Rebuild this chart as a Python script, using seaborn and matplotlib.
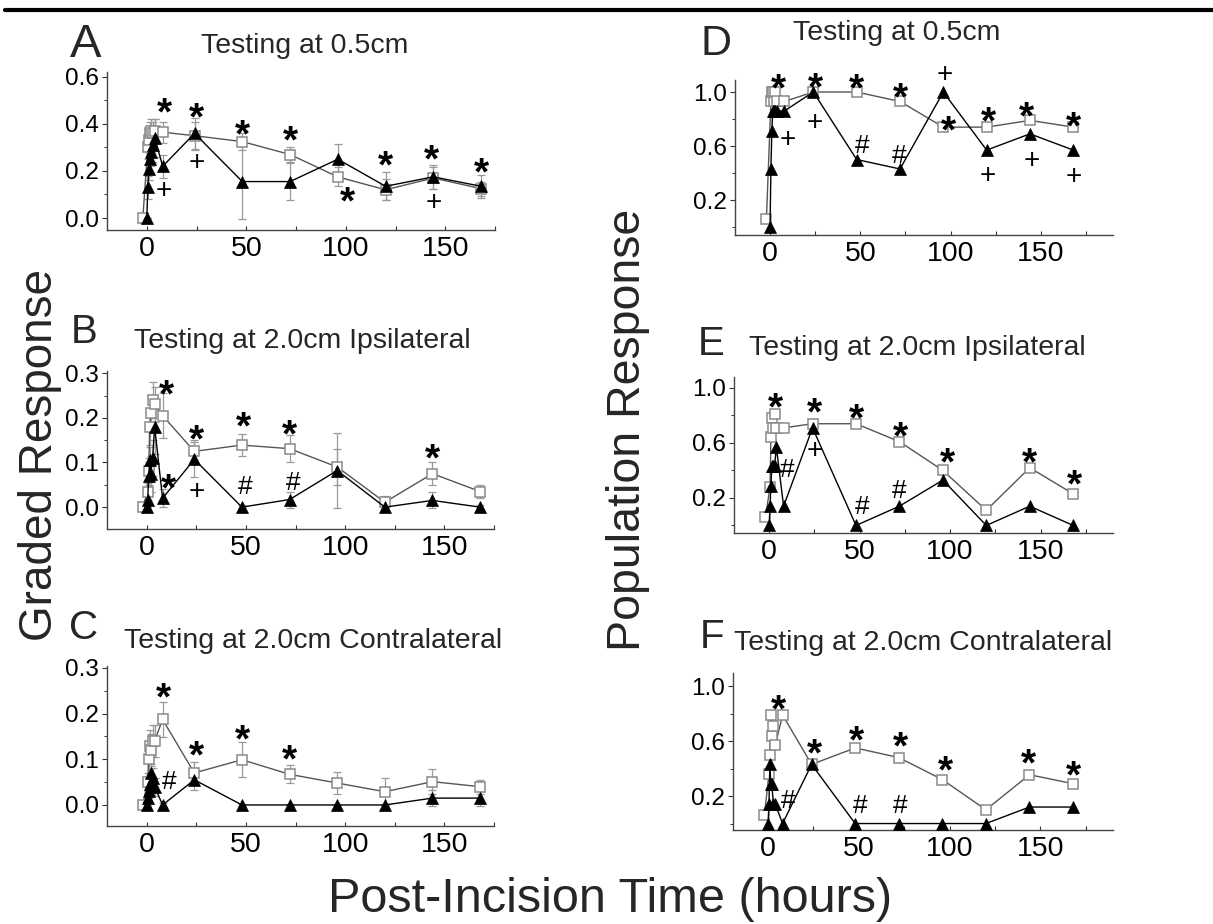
import matplotlib
matplotlib.use("Agg")
import matplotlib.pyplot as plt
from matplotlib.ticker import FixedLocator, FormatStrFormatter
from matplotlib.lines import Line2D
import pandas as pd
import seaborn as sns

# ---------------- data ----------------
hours_open = [-2, 0.5, 1, 1.5, 2, 3, 4, 8, 24, 48, 72, 96, 120, 144, 168]
hours_filled = [0, 0.5, 1, 1.5, 2, 3, 4, 8, 24, 48, 72, 96, 120, 144, 168]

# Graded response (mean, SEM)
A_open = [0.0, 0.30, 0.33, 0.36, 0.37, 0.36, 0.37, 0.365, 0.35, 0.325, 0.27, 0.175, 0.12, 0.17, 0.125]
A_open_err = [0.02, 0.05, 0.05, 0.05, 0.05, 0.05, 0.05, 0.045, 0.06, 0.035, 0.03, 0.04, 0.045, 0.045, 0.03]
A_filled = [0.0, 0.13, 0.21, 0.25, 0.28, 0.31, 0.34, 0.22, 0.36, 0.155, 0.155, 0.25, 0.135, 0.175, 0.135]
A_filled_err = [0.0, 0.05, 0.05, 0.06, 0.06, 0.07, 0.08, 0.05, 0.065, 0.16, 0.08, 0.065, 0.06, 0.05, 0.05]

B_open = [0.0, 0.035, 0.08, 0.18, 0.21, 0.24, 0.23, 0.205, 0.125, 0.139, 0.131, 0.09, 0.011, 0.075, 0.035]
B_open_err = [0.0, 0.02, 0.03, 0.04, 0.04, 0.04, 0.04, 0.05, 0.025, 0.025, 0.03, 0.04, 0.015, 0.025, 0.015]
B_filled = [0.0, 0.015, 0.07, 0.105, 0.075, 0.11, 0.18, 0.02, 0.107, 0.0, 0.017, 0.082, 0.0, 0.015, 0.0]
B_filled_err = [0.0, 0.01, 0.03, 0.03, 0.04, 0.04, 0.06, 0.02, 0.04, 0.005, 0.018, 0.085, 0.005, 0.018, 0.005]

C_open = [0.0, 0.05, 0.10, 0.13, 0.12, 0.14, 0.14, 0.187, 0.07, 0.099, 0.067, 0.048, 0.029, 0.051, 0.04]
C_open_err = [0.0, 0.02, 0.03, 0.035, 0.035, 0.035, 0.035, 0.038, 0.025, 0.038, 0.02, 0.025, 0.03, 0.028, 0.015]
C_filled = [0.0, 0.015, 0.03, 0.045, 0.07, 0.06, 0.04, 0.0, 0.055, 0.0, 0.0, 0.0, 0.0, 0.015, 0.015]
C_filled_err = [0.0, 0.01, 0.015, 0.02, 0.02, 0.02, 0.02, 0.005, 0.022, 0.003, 0.003, 0.003, 0.003, 0.018, 0.018]

# Population response
D_open = [0.06, 0.93, 1.0, 1.0, 0.93, 1.0, 0.93, 0.93, 1.0, 1.0, 0.93, 0.74, 0.74, 0.79, 0.74]
D_filled = [0.0, 0.43, 0.71, 0.86, 0.86, 0.86, 0.86, 0.86, 1.0, 0.5, 0.43, 1.0, 0.57, 0.69, 0.57]
E_open = [0.06, 0.28, 0.64, 0.78, 0.71, 0.81, 0.71, 0.71, 0.74, 0.74, 0.61, 0.40, 0.11, 0.42, 0.23]
E_filled = [0.0, 0.14, 0.29, 0.43, 0.43, 0.43, 0.57, 0.14, 0.71, 0.0, 0.14, 0.33, 0.0, 0.14, 0.0]
F_open = [0.06, 0.36, 0.50, 0.79, 0.64, 0.71, 0.57, 0.79, 0.43, 0.55, 0.48, 0.32, 0.10, 0.355, 0.29]
F_filled = [0.0, 0.14, 0.43, 0.29, 0.29, 0.14, 0.14, 0.0, 0.43, 0.0, 0.0, 0.0, 0.0, 0.12, 0.12]

# significance marks: (hour, response level, symbol)
A_marks = [(9, 0.496, '*'), (25, 0.475, '*'), (48, 0.404, '*'), (72, 0.376, '*'),
           (101, 0.12, '*'), (120, 0.27, '*'), (143, 0.298, '*'), (168, 0.24, '*'),
           (8.5, 0.128, '+'), (25, 0.248, '+'), (144, 0.078, '+')]
B_marks = [(10, 0.2775, '*'), (25, 0.176, '*'), (48.6, 0.206, '*'), (72, 0.1875, '*'),
           (11, 0.0675, '*'), (144, 0.135, '*'), (25, 0.041, '+'), (49.4, 0.049, '#'),
           (73.7, 0.06, '#')]
C_marks = [(8.4, 0.26, '*'), (25, 0.132, '*'), (48.3, 0.168, '*'), (71.7, 0.124, '*'),
           (11.4, 0.055, '#')]
D_marks = [(4.6, 1.11, '*'), (25, 1.12, '*'), (48, 1.11, '*'), (72, 1.04, '*'),
           (97, 1.15, '+'), (99, 0.80, '*'), (121, 0.865, '*'), (142, 0.90, '*'),
           (168, 0.83, '*'), (25, 0.79, '+'), (9.8, 0.667, '+'), (51, 0.618, '#'),
           (71.5, 0.539, '#'), (120.6, 0.397, '+'), (145, 0.507, '+'), (168, 0.39, '+')]
E_marks = [(3.7, 0.94, '*'), (25, 0.903, '*'), (48, 0.86, '*'), (72.5, 0.733, '*'),
           (98.5, 0.539, '*'), (144, 0.54, '*'), (168.5, 0.377, '*'), (25, 0.564, '+'),
           (10.2, 0.418, '#'), (51.7, 0.15, '#'), (72, 0.27, '#')]
F_marks = [(5.5, 0.91, '*'), (25.8, 0.594, '*'), (48.8, 0.69, '*'), (73, 0.642, '*'),
           (98, 0.465, '*'), (143.6, 0.52, '*'), (168.5, 0.435, '*'), (11, 0.18, '#'),
           (51, 0.143, '#'), (73, 0.143, '#')]

x_ticks = [0, 50, 100, 150]

# ---------------- style ----------------
sns.set_style("ticks")
plt.rcParams['font.family'] = ['Liberation Sans', 'DejaVu Sans']
plt.rcParams['axes.linewidth'] = 1.0

W, H = 1213, 924
fig = plt.figure(figsize=(W / 100, H / 100), dpi=100)
fig.patch.set_facecolor('white')


def px_rect(l, t, r, b):
    return [l / W, 1 - b / H, (r - l) / W, (b - t) / H]


panels = [
    dict(letter='A', title='Testing at 0.5cm', rect=(107, 72, 495, 230), xlim=(-20, 175),
         ylim=(-0.051, 0.621), yt=[0, 0.2, 0.4, 0.6], ym=[0.1, 0.3, 0.5],
         open=A_open, filled=A_filled, oerr=A_open_err, ferr=A_filled_err, marks=A_marks,
         lpos=(70, 57, 34), tpos=(305, 53)),
    dict(letter='B', title='Testing at 2.0cm Ipsilateral', rect=(107, 371, 494, 529), xlim=(-20, 175),
         ylim=(-0.049, 0.305), yt=[0, 0.1, 0.2, 0.3], ym=[0.05, 0.15, 0.25],
         open=B_open, filled=B_filled, oerr=B_open_err, ferr=B_filled_err, marks=B_marks,
         lpos=(71, 343, 29), tpos=(302, 348)),
    dict(letter='C', title='Testing at 2.0cm Contralateral', rect=(107, 666, 494, 826), xlim=(-20, 175),
         ylim=(-0.046, 0.304), yt=[0, 0.1, 0.2, 0.3], ym=[0.05, 0.15, 0.25],
         open=C_open, filled=C_filled, oerr=C_open_err, ferr=C_filled_err, marks=C_marks,
         lpos=(69, 639, 29), tpos=(313, 648)),
    dict(letter='D', title='Testing at 0.5cm', rect=(735, 80, 1113, 235), xlim=(-19.4, 190),
         ylim=(-0.059, 1.089), yt=[0.2, 0.6, 1.0], ym=[0.0, 0.4, 0.8],
         open=D_open, filled=D_filled, oerr=None, ferr=None, marks=D_marks,
         lpos=(700, 55, 31), tpos=(897, 40)),
    dict(letter='E', title='Testing at 2.0cm Ipsilateral', rect=(734, 377, 1113, 533), xlim=(-19.4, 190),
         ylim=(-0.055, 1.08), yt=[0.2, 0.6, 1.0], ym=[0.0, 0.4, 0.8],
         open=E_open, filled=E_filled, oerr=None, ferr=None, marks=E_marks,
         lpos=(698, 355, 29), tpos=(917, 355)),
    dict(letter='F', title='Testing at 2.0cm Contralateral', rect=(733, 673, 1113, 830), xlim=(-19.3, 190),
         ylim=(-0.047, 1.095), yt=[0.2, 0.6, 1.0], ym=[0.0, 0.4, 0.8],
         open=F_open, filled=F_filled, oerr=None, ferr=None, marks=F_marks,
         lpos=(700, 648, 29), tpos=(923, 650)),
]

# symbol -> (font size, glyph centre height in em, weight)
mark_style = {'*': (28, 0.60, 'bold'), '+': (20, 0.354, 'normal'), '#': (19, 0.35, 'normal')}

for p in panels:
    ax = fig.add_axes(px_rect(*p['rect']))
    ax.set_facecolor('white')
    d_open = pd.DataFrame({'hours': hours_open, 'resp': p['open']})
    d_fill = pd.DataFrame({'hours': hours_filled, 'resp': p['filled']})

    if p['oerr'] is not None:
        ax.errorbar(hours_open, p['open'], yerr=p['oerr'], fmt='none', ecolor='#9a9a9a',
                    elinewidth=0.9, capsize=3, capthick=0.9, zorder=1)
        ax.errorbar(hours_filled, p['filled'], yerr=p['ferr'], fmt='none', ecolor='#9a9a9a',
                    elinewidth=0.9, capsize=3, capthick=0.9, zorder=1)

    sns.lineplot(data=d_open, x='hours', y='resp', ax=ax, sort=False, estimator=None,
                 color='#555555', linewidth=1.0, marker='s', markersize=7,
                 markerfacecolor='white', markeredgecolor='#8a8a8a', markeredgewidth=1.1,
                 zorder=2)
    sns.lineplot(data=d_fill, x='hours', y='resp', ax=ax, sort=False, estimator=None,
                 color='black', linewidth=1.0, marker='^', markersize=8.5,
                 markerfacecolor='black', markeredgecolor='black', markeredgewidth=0.5,
                 zorder=3)

    for (hx, hy, sym) in p['marks']:
        fs, off, fw = mark_style[sym]
        ax.annotate(sym, xy=(hx, hy), xytext=(0, -off * fs), textcoords='offset points',
                    ha='center', va='baseline', fontsize=fs, fontweight=fw, color='black',
                    annotation_clip=False, zorder=4)

    ax.set_xlim(*p['xlim'])
    ax.set_ylim(*p['ylim'])
    ax.set_xlabel('')
    ax.set_ylabel('')
    ax.xaxis.set_major_locator(FixedLocator(x_ticks))
    ax.xaxis.set_minor_locator(FixedLocator([25, 75, 125, 175]))
    ax.yaxis.set_major_locator(FixedLocator(p['yt']))
    ax.yaxis.set_minor_locator(FixedLocator(p['ym']))
    ax.yaxis.set_major_formatter(FormatStrFormatter('%.1f'))
    ax.tick_params(axis='x', which='major', direction='in', length=3, width=0.8,
                   labelsize=20.5, pad=4, colors='#333333', labelcolor='black')
    ax.tick_params(axis='x', which='minor', direction='in', length=3, width=0.8, colors='#333333')
    ax.tick_params(axis='y', which='major', direction='out', length=3.5, width=0.8,
                   labelsize=17.5, pad=2, colors='#333333', labelcolor='black')
    ax.tick_params(axis='y', which='minor', direction='out', length=2.5, width=0.7, colors='#333333')
    for s in ['top', 'right']:
        ax.spines[s].set_visible(False)
    for s in ['left', 'bottom']:
        ax.spines[s].set_color('#444444')
        ax.spines[s].set_linewidth(1.0)

    lx, ly, lfs = p['lpos']
    fig.text(lx / W, 1 - ly / H, p['letter'], fontsize=lfs, ha='left', va='baseline')
    tx, ty = p['tpos']
    fig.text(tx / W, 1 - ty / H, p['title'], fontsize=20.5, ha='center', va='baseline')

fig.text(40 / W, 1 - 455 / H, 'Graded Response', rotation=90, fontsize=33,
         ha='center', va='center')
fig.text(628 / W, 1 - 430 / H, 'Population Response', rotation=90, fontsize=33.5,
         ha='center', va='center')
fig.text(610 / W, 1 - 900 / H, 'Post-Incision Time (hours)', fontsize=35,
         ha='center', va='center')

fig.add_artist(Line2D([5 / W, 1.0], [1 - 10 / H, 1 - 10 / H], color='black', linewidth=3))

fig.savefig('out.png', dpi=100, facecolor='white')
